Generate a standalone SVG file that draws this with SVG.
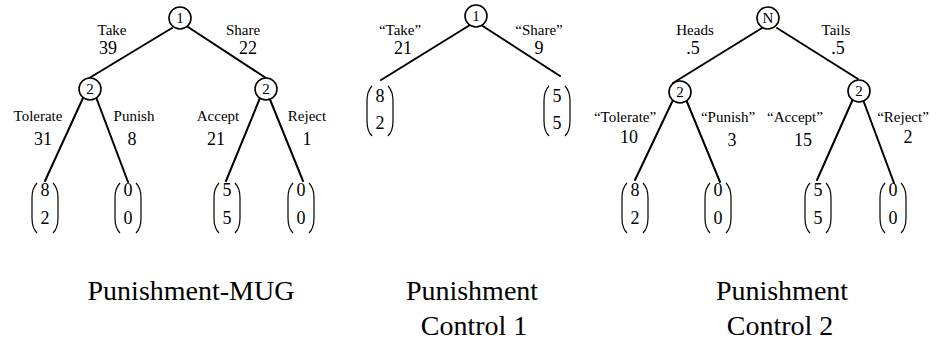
<svg xmlns="http://www.w3.org/2000/svg" xmlns:xlink="http://www.w3.org/1999/xlink" width="936" height="345" viewBox="0 0 936 345">
<style>
text { font-family: "Liberation Serif", "Times New Roman", serif; fill: #000; text-anchor: middle; }
.lab { font-size: 15px; }
.num { font-size: 18px; }
.in { font-size: 15px; }
.dig { font-size: 18px; }
.title { font-size: 28px; }
.edge { stroke: #000; stroke-width: 2; fill: none; stroke-linecap: round; }
.dec { fill: #fff; stroke: #000; stroke-width: 1.6; }
.par { fill: none; stroke: #000; stroke-width: 1.2; }
</style>
<defs>
<path id="pp" class="par" d="M-8,0 Q-13,5 -13,15 L-13,35 Q-13,45 -8,50 M8,0 Q13,5 13,15 L13,35 Q13,45 8,50"/>
</defs>
<rect width="936" height="345" fill="#fff"/>

<g id="connectors">
  <!-- tree 1 -->
  <line class="edge" x1="172" y1="28" x2="86" y2="80"/>
  <line class="edge" x1="188" y1="27" x2="266" y2="78"/>
  <line class="edge" x1="83" y1="98" x2="45" y2="181"/>
  <line class="edge" x1="96" y1="97" x2="128" y2="182"/>
  <line class="edge" x1="260" y1="98" x2="226" y2="181"/>
  <line class="edge" x1="269" y1="97" x2="303" y2="181"/>
  <!-- tree 2 -->
  <line class="edge" x1="470" y1="25" x2="381" y2="80"/>
  <line class="edge" x1="478" y1="23" x2="560" y2="76"/>
  <!-- tree 3 -->
  <line class="edge" x1="762" y1="28" x2="673" y2="83"/>
  <line class="edge" x1="777" y1="28" x2="858" y2="79"/>
  <line class="edge" x1="673" y1="100" x2="635" y2="180"/>
  <line class="edge" x1="685" y1="97" x2="720" y2="182"/>
  <line class="edge" x1="853" y1="99" x2="817" y2="180"/>
  <line class="edge" x1="862" y1="97" x2="894" y2="183"/>
</g>

<g id="labels">
  <text class="lab" x="112" y="35">Take</text>
  <text class="num" x="108" y="54">39</text>
  <text class="lab" x="243" y="35">Share</text>
  <text class="num" x="248" y="54">22</text>
  <text class="lab" x="38" y="121">Tolerate</text>
  <text class="num" x="43" y="145">31</text>
  <text class="lab" x="134" y="121">Punish</text>
  <text class="num" x="132" y="145">8</text>
  <text class="lab" x="218" y="121">Accept</text>
  <text class="num" x="216" y="145">21</text>
  <text class="lab" x="307" y="121">Reject</text>
  <text class="num" x="307" y="145">1</text>

  <text class="lab" x="400" y="35">“Take”</text>
  <text class="num" x="403" y="54">21</text>
  <text class="lab" x="539" y="35">“Share”</text>
  <text class="num" x="539" y="54">9</text>

  <text class="lab" x="695" y="35">Heads</text>
  <text class="num" x="693" y="54">.5</text>
  <text class="lab" x="836" y="35">Tails</text>
  <text class="num" x="838" y="54">.5</text>
  <text class="lab" x="625" y="122">“Tolerate”</text>
  <text class="num" x="629" y="143">10</text>
  <text class="lab" x="728" y="122">“Punish”</text>
  <text class="num" x="732" y="146">3</text>
  <text class="lab" x="795" y="122">“Accept”</text>
  <text class="num" x="803" y="146">15</text>
  <text class="lab" x="903" y="122">“Reject”</text>
  <text class="num" x="908" y="143">2</text>
</g>

<!-- tree 1 nodes -->
<g id="t1-root"><circle class="dec" cx="180" cy="18" r="11"/><text class="in" x="180" y="23">1</text></g>
<g id="t1-p2-left"><circle class="dec" cx="90" cy="89" r="11"/><text class="in" x="90" y="94">2</text></g>
<g id="t1-p2-right"><circle class="dec" cx="266" cy="89" r="11"/><text class="in" x="266" y="94">2</text></g>
<g id="t1-leaf-tolerate"><use xlink:href="#pp" x="45" y="183"/><text class="dig" x="45" y="196">8</text><text class="dig" x="45" y="224">2</text></g>
<g id="t1-leaf-punish"><use xlink:href="#pp" x="128" y="183"/><text class="dig" x="128" y="196">0</text><text class="dig" x="128" y="224">0</text></g>
<g id="t1-leaf-accept"><use xlink:href="#pp" x="227" y="183"/><text class="dig" x="227" y="196">5</text><text class="dig" x="227" y="224">5</text></g>
<g id="t1-leaf-reject"><use xlink:href="#pp" x="301" y="183"/><text class="dig" x="301" y="196">0</text><text class="dig" x="301" y="224">0</text></g>

<!-- tree 2 nodes -->
<g id="t2-root"><circle class="dec" cx="476" cy="16" r="11"/><text class="in" x="476" y="21">1</text></g>
<g id="t2-leaf-take"><use xlink:href="#pp" x="380" y="86"/><text class="dig" x="380" y="102">8</text><text class="dig" x="380" y="129">2</text></g>
<g id="t2-leaf-share"><use xlink:href="#pp" x="557" y="86"/><text class="dig" x="557" y="102">5</text><text class="dig" x="557" y="129">5</text></g>

<!-- tree 3 nodes -->
<g id="t3-root"><circle class="dec" cx="768" cy="18" r="11"/><text class="in" x="768" y="23">N</text></g>
<g id="t3-p2-left"><circle class="dec" cx="680" cy="92" r="11"/><text class="in" x="680" y="97">2</text></g>
<g id="t3-p2-right"><circle class="dec" cx="859" cy="91" r="11"/><text class="in" x="859" y="96">2</text></g>
<g id="t3-leaf-tolerate"><use xlink:href="#pp" x="635" y="183"/><text class="dig" x="635" y="196">8</text><text class="dig" x="635" y="224">2</text></g>
<g id="t3-leaf-punish"><use xlink:href="#pp" x="718" y="183"/><text class="dig" x="718" y="196">0</text><text class="dig" x="718" y="224">0</text></g>
<g id="t3-leaf-accept"><use xlink:href="#pp" x="818" y="183"/><text class="dig" x="818" y="196">5</text><text class="dig" x="818" y="224">5</text></g>
<g id="t3-leaf-reject"><use xlink:href="#pp" x="893" y="183"/><text class="dig" x="893" y="196">0</text><text class="dig" x="893" y="224">0</text></g>

<g id="titles">
  <text class="title" x="191" y="300">Punishment-MUG</text>
  <text class="title" x="472" y="300">Punishment</text>
  <text class="title" x="474" y="335">Control 1</text>
  <text class="title" x="782" y="300">Punishment</text>
  <text class="title" x="780" y="335">Control 2</text>
</g>
</svg>
